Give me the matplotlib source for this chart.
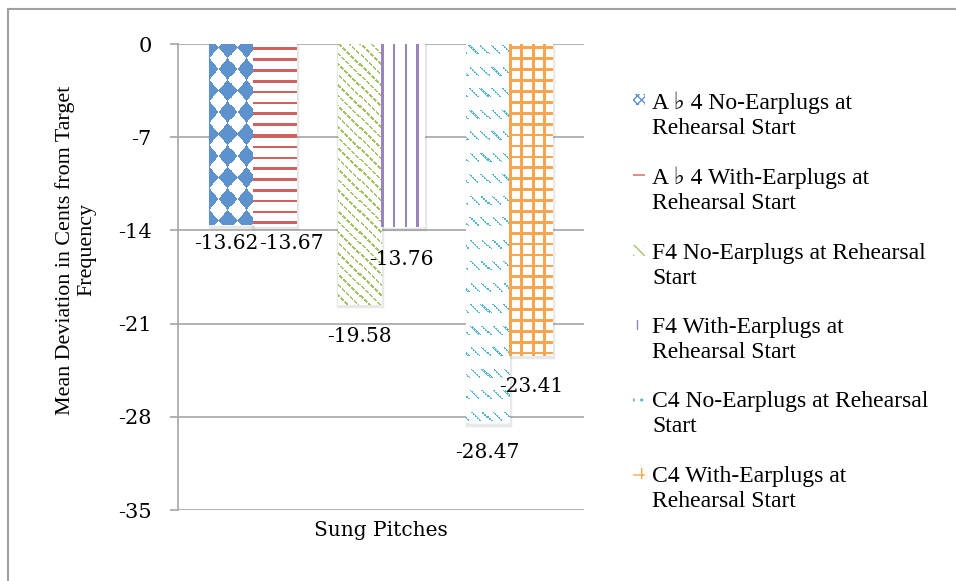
import numpy as np
import matplotlib.pyplot as plt
from matplotlib.colors import to_rgb
from matplotlib.patches import Patch, Rectangle
from matplotlib.lines import Line2D
from matplotlib.legend_handler import HandlerPatch
import matplotlib.patheffects as pe

plt.rcParams['axes.unicode_minus'] = False

# mean deviation (cents) for each pitch / condition
series = [
    "A \u266d 4 No-Earplugs at\nRehearsal Start",
    "A \u266d 4 With-Earplugs at\nRehearsal Start",
    "F4 No-Earplugs at Rehearsal\nStart",
    "F4 With-Earplugs at\nRehearsal Start",
    "C4 No-Earplugs at Rehearsal\nStart",
    "C4 With-Earplugs at\nRehearsal Start",
]
values = [-13.62, -13.67, -19.58, -13.76, -28.47, -23.41]
colors = ["#5D92CC", "#CD625E", "#A3C465", "#9A84BE", "#52B5D4", "#F9A54F"]
yticks = [0, -7, -14, -21, -28, -35]

# label nudges (px) below the bar end
label_dx = [-5, 17, 0, -1, 0, 0]
label_dy = [18, 17, 32, 32, 29, 31]

W, H = 956, 581
fig = plt.figure(figsize=(W / 100, H / 100), dpi=100)
ax = fig.add_axes([178 / W, 1 - 510 / H, 406 / W, 466 / H])

serif = ['Liberation Serif', 'DejaVu Sans']
numfont = 'DejaVu Serif'


# fill patterns, in pixel coordinates local to each bar
def pat_diamond(X, Y):
    p = (X + 9) / 18 + (Y - 4) / 21.5
    q = (X + 9) / 18 - (Y - 4) / 21.5
    return (np.floor(p) + np.floor(q)) % 2 == 0


def pat_hlines(X, Y):
    return (Y - 4) % 10.8 < 2.6


def pat_diag(X, Y):
    d = (X - Y) % 10.5
    return (d < 2.5) & (((X + Y) // 2) % 4 != 3)


def pat_vlines(X, Y):
    return X % 11.2 < 2.5


def pat_dashes(X, Y):
    d = (X - Y) % 10.7
    return (d < 2.3) & ((Y - 2) % 21.5 < 9) & ((X + Y) % 4 != 3)


def pat_grid(X, Y):
    return (X % 10.9 < 2.7) | ((Y - 2) % 10.9 < 2.7)


patterns = [pat_diamond, pat_hlines, pat_diag, pat_vlines, pat_dashes, pat_grid]
hatches = ['xxxx', '-', '\\\\\\', '||', '..', '+']

width = 0.107
spacing = 0.316
centers = []
for i in range(len(values)):
    pair = i // 2
    c = 0.5 + (pair - 1) * spacing + (width / 2 if i % 2 else -width / 2)
    centers.append(c)

ax.set_xlim(0, 1)
ax.set_ylim(-35, 0)

bars = ax.bar(centers, values, width=width, color='white', edgecolor='none',
              zorder=2)
for b in bars:
    b.set_path_effects([pe.Stroke(offset=(0.5, -1.2), linewidth=2.5,
                                  foreground='0.4', alpha=0.15),
                        pe.Normal()])

for b, fn, col in zip(bars, patterns, colors):
    x0, x1 = b.get_x(), b.get_x() + b.get_width()
    y1 = b.get_y() + b.get_height()
    (px0, py0), (px1, py1) = ax.transData.transform([(x0, 0), (x1, y1)])
    nx = max(int(round(px1 - px0)), 1)
    ny = max(int(round(py0 - py1)), 1)
    X, Y = np.meshgrid(np.arange(nx), np.arange(ny))
    ink = fn(X, Y)
    img = np.ones((ny, nx, 3))
    img[ink] = to_rgb(col)
    im = ax.imshow(img, extent=(x0, x1, y1, 0), origin='upper', aspect='auto',
                   interpolation='none', zorder=3)
    im.set_clip_path(b)

ax.set_xlim(0, 1)
ax.set_ylim(-35, 0)

for i, (c, v) in enumerate(zip(centers, values)):
    ax.annotate(f"{v:.2f}", xy=(c, v),
                xytext=(label_dx[i] * 0.72, -label_dy[i] * 0.72),
                textcoords='offset points', ha='center', va='center',
                fontsize=14.5, family=numfont, color='black', zorder=4,
                annotation_clip=False)

ax.set_yticks(yticks)
ax.set_yticklabels([str(t) for t in yticks], family=numfont, fontsize=15)
ax.set_xticks([])
ax.yaxis.grid(True, color='#A6A6A6', linewidth=1.2, zorder=0)
ax.set_axisbelow(True)
for s in ['top', 'right', 'bottom']:
    ax.spines[s].set_visible(False)
ax.spines['left'].set_color('#A6A6A6')
ax.spines['left'].set_linewidth(1.2)
ax.tick_params(axis='y', length=6, width=1.2, color='#A6A6A6', pad=13)

ax.set_xlabel("Sung Pitches", family=numfont, fontsize=14.5, labelpad=8)

fig.text(76 / W, 1 - 250 / H,
         "Mean Deviation in Cents from Target\nFrequency",
         rotation=90, ha='center', va='center', multialignment='center',
         family=serif, fontsize=15.8, linespacing=1.15)


# small swatch level with the first line of a two-line label
def top_swatch(legend, orig_handle, xdescent, ydescent, width, height, fontsize):
    return Rectangle((-xdescent, 0.75 * fontsize), width, 0.45 * fontsize)


handles = [Patch(facecolor='white', edgecolor=c, hatch=h, linewidth=0)
           for c, h in zip(colors, hatches)]
leg = ax.legend(handles, series, loc='upper left',
                bbox_to_anchor=(633 / W, 1 - 91 / H),
                bbox_transform=fig.transFigure, frameon=False,
                prop={'family': serif, 'size': 17},
                handler_map={Patch: HandlerPatch(patch_func=top_swatch)},
                handlelength=0.5, handletextpad=0.3,
                labelspacing=1.2, borderpad=0, borderaxespad=0)
for t in leg.get_texts():
    t.set_linespacing(1.25)

# outer chart border
fig.add_artist(Line2D([8 / W, 8 / W], [0, 1 - 9 / H], color='#A0A0A0',
                      linewidth=1.5, transform=fig.transFigure))
fig.add_artist(Line2D([8 / W, 1], [1 - 9 / H, 1 - 9 / H], color='#A0A0A0',
                      linewidth=1.5, transform=fig.transFigure))

fig.savefig("out.png", dpi=100)
